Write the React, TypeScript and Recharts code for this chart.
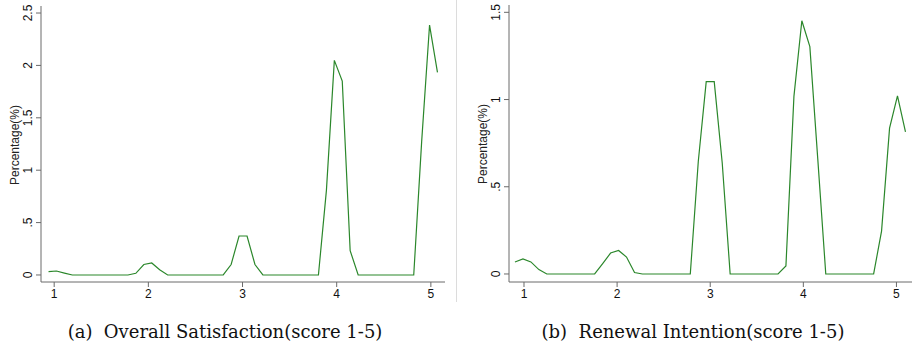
import React from 'react';
import { LineChart, Line, XAxis, YAxis } from 'recharts';

// evaluation points of the density (x) and the estimated percentages (y)
const satisfactionX = [
  0.94, 1.024, 1.109, 1.193, 1.277, 1.361, 1.446, 1.53, 1.614, 1.699,
  1.783, 1.867, 1.952, 2.036, 2.12, 2.205, 2.289, 2.373, 2.457, 2.542,
  2.626, 2.71, 2.795, 2.879, 2.963, 3.048, 3.132, 3.216, 3.3, 3.385,
  3.469, 3.553, 3.638, 3.722, 3.806, 3.891, 3.975, 4.059, 4.143, 4.228,
  4.312, 4.396, 4.481, 4.565, 4.649, 4.734, 4.818, 4.902, 4.986, 5.07,
];
const satisfactionY = [
  0.032, 0.038, 0.018, 0, 0, 0, 0, 0, 0, 0,
  0, 0.016, 0.1, 0.115, 0.05, 0, 0, 0, 0, 0,
  0, 0, 0, 0.1, 0.372, 0.372, 0.1, 0, 0, 0,
  0, 0, 0, 0, 0, 0.81, 2.048, 1.851, 0.232, 0,
  0, 0, 0, 0, 0, 0, 0, 1.27, 2.385, 1.934,
];

const renewalX = [
  0.903, 0.989, 1.074, 1.16, 1.245, 1.331, 1.416, 1.502, 1.588, 1.673,
  1.759, 1.845, 1.93, 2.016, 2.101, 2.187, 2.272, 2.358, 2.444, 2.529,
  2.615, 2.7, 2.786, 2.872, 2.957, 3.043, 3.129, 3.214, 3.3, 3.385,
  3.471, 3.557, 3.642, 3.728, 3.813, 3.899, 3.984, 4.07, 4.155, 4.241,
  4.327, 4.412, 4.498, 4.583, 4.669, 4.755, 4.84, 4.926, 5.011, 5.097,
];
const renewalY = [
  0.069, 0.086, 0.069, 0.025, 0, 0, 0, 0, 0, 0,
  0, 0.059, 0.12, 0.135, 0.097, 0.008, 0, 0, 0, 0,
  0, 0, 0, 0.646, 1.103, 1.103, 0.636, 0, 0, 0,
  0, 0, 0, 0, 0.046, 1.018, 1.452, 1.303, 0.66, 0,
  0, 0, 0, 0, 0, 0, 0.246, 0.836, 1.021, 0.814,
];

const xTicks = [1, 2, 3, 4, 5];
const satisfactionTicks = [0, 0.5, 1, 1.5, 2, 2.5];
const renewalTicks = [0, 0.5, 1, 1.5];

const lineColor = '#2b872b';
const frameColor = '#6a6a6a';
const tickFont = '"Liberation Sans", Arial, sans-serif';

const fmt = (v: number) => String(v).replace(/^0\./, '.');

const YTick = (props: any) => {
  const { x, y, payload } = props;
  return (
    <text
      x={x}
      y={y}
      transform={`rotate(-90, ${x}, ${y})`}
      textAnchor="middle"
      fontSize={12}
      fontFamily={tickFont}
      fill="#111"
    >
      {fmt(payload.value)}
    </text>
  );
};

const XTick = (props: any) => {
  const { x, y, payload } = props;
  return (
    <text x={x} y={y + 9} textAnchor="middle" fontSize={12} fontFamily={tickFont} fill="#111">
      {payload.value}
    </text>
  );
};

interface PanelProps {
  xs: number[];
  ys: number[];
  xDomain: [number, number];
  yDomain: [number, number];
  yTicks: number[];
  width: number;
  yWidth: number;
  top: number;
  right: number;
}

const Panel: React.FC<PanelProps> = ({ xs, ys, xDomain, yDomain, yTicks, width, yWidth, top, right }) => {
  const data = xs.map((x, i) => ({ x, y: ys[i] }));
  return (
    <LineChart width={width} height={300} data={data} margin={{ top, right, left: 0, bottom: 0 }}>
      <XAxis
        dataKey="x"
        type="number"
        domain={xDomain}
        ticks={xTicks}
        allowDataOverflow
        height={18}
        tickSize={5}
        tick={<XTick />}
        stroke={frameColor}
      />
      <XAxis xAxisId="top" orientation="top" dataKey="x" type="number" domain={xDomain} height={0} tick={false} tickLine={false} stroke="#8a8a8a" />
      <YAxis
        type="number"
        domain={yDomain}
        ticks={yTicks}
        allowDataOverflow
        width={yWidth}
        tickSize={5}
        tickMargin={4}
        tick={<YTick />}
        stroke={frameColor}
      />
      <YAxis yAxisId="right" orientation="right" type="number" domain={yDomain} width={0} tick={false} tickLine={false} stroke="#8a8a8a" />
      <Line dataKey="y" type="linear" stroke={lineColor} strokeWidth={1.2} dot={false} isAnimationActive={false} />
    </LineChart>
  );
};

const title: React.CSSProperties = {
  position: 'absolute',
  width: 440,
  textAlign: 'center',
  fontFamily: '"DejaVu Serif", "Liberation Serif", serif',
  fontSize: 18,
  color: '#111',
  whiteSpace: 'nowrap',
};

const yTitle: React.CSSProperties = {
  position: 'absolute',
  fontFamily: tickFont,
  fontSize: 12,
  color: '#222',
  whiteSpace: 'nowrap',
  transform: 'translate(-50%, -50%) rotate(-90deg)',
};

export default function App() {
  return (
    <div style={{ position: 'absolute', left: 0, top: 0, width: 915, height: 352, background: '#fff' }}>
      <div style={{ position: 'absolute', left: 0, top: 0 }}>
        <Panel
          xs={satisfactionX}
          ys={satisfactionY}
          xDomain={[0.86, 5.15]}
          yDomain={[-0.067, 2.567]}
          yTicks={satisfactionTicks}
          width={455}
          yWidth={41}
          top={6}
          right={10}
        />
      </div>
      <div style={{ position: 'absolute', left: 455, top: 0 }}>
        <Panel
          xs={renewalX}
          ys={renewalY}
          xDomain={[0.839, 5.167]}
          yDomain={[-0.046, 1.542]}
          yTicks={renewalTicks}
          width={460}
          yWidth={54}
          top={5}
          right={3}
        />
      </div>
      <div style={{ position: 'absolute', left: 456, top: 0, width: 1, height: 302, background: '#dcdcdc' }} />
      <div style={{ ...yTitle, left: 15, top: 145 }}>Percentage(%)</div>
      <div style={{ ...yTitle, left: 483, top: 144 }}>Percentage(%)</div>
      <div style={{ ...title, left: 225 - 220, top: 321 }}>(a)&nbsp;&nbsp;Overall Satisfaction(score 1-5)</div>
      <div style={{ ...title, left: 693 - 220, top: 321 }}>(b)&nbsp;&nbsp;Renewal Intention(score 1-5)</div>
    </div>
  );
}
